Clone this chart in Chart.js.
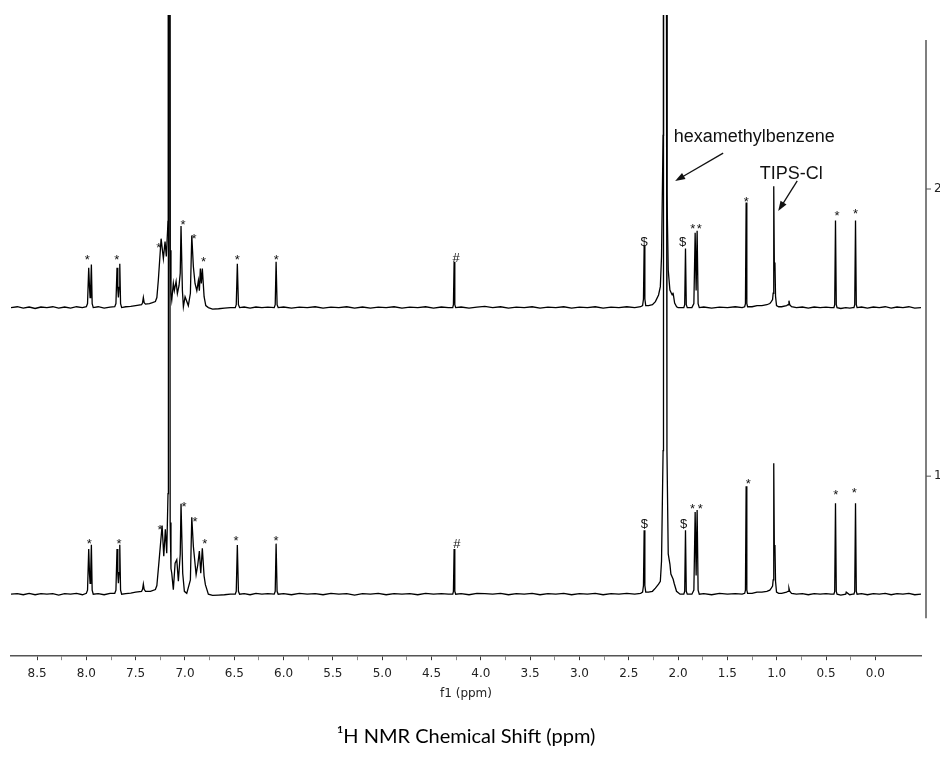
<!DOCTYPE html>
<html>
<head>
<meta charset="utf-8">
<title>1H NMR stacked spectra</title>
<script src="https://cdn.jsdelivr.net/npm/chart.js@4.4.1/dist/chart.umd.min.js"></script>
<style>
  body { margin: 0; background: #fff; }
  canvas { display: block; }
</style>
</head>
<body>
<canvas id="nmrChart" width="940" height="768"></canvas>
<script>
// Spectrum 2 (upper trace): chemical shift (ppm) and intensity above its baseline
const shift2 = [
  8.764, 8.70, 8.64, 8.58, 8.52, 8.46, 8.40, 8.34, 8.28, 8.22, 8.16, 8.10, 8.04,
  8.000, 7.988, 7.976, 7.968, 7.962, 7.956, 7.949, 7.941, 7.930, 7.88, 7.82, 7.76,
  7.712, 7.700, 7.689, 7.681, 7.675, 7.668, 7.661, 7.653, 7.642, 7.60, 7.55, 7.50,
  7.44, 7.430, 7.422, 7.414, 7.40, 7.36, 7.33, 7.300, 7.285, 7.270, 7.242, 7.219,
  7.202, 7.189, 7.172, 7.168, 7.154, 7.150, 7.142, 7.134, 7.118, 7.108, 7.090, 7.077,
  7.060, 7.048, 7.040, 7.026, 7.016, 6.999, 6.966, 6.945, 6.931, 6.915, 6.898, 6.880,
  6.864, 6.854, 6.844, 6.834, 6.824, 6.806, 6.789, 6.763, 6.72, 6.66, 6.60, 6.54,
  6.490, 6.480, 6.469, 6.458, 6.446, 6.40, 6.34, 6.28, 6.22, 6.16, 6.095, 6.085,
  6.076, 6.066, 6.055, 6.00, 5.92, 5.84, 5.76, 5.68, 5.60, 5.52, 5.44, 5.36, 5.28,
  5.20, 5.12, 5.04, 4.96, 4.88, 4.80, 4.72, 4.64, 4.56, 4.48, 4.40, 4.33, 4.285,
  4.278, 4.271, 4.264, 4.255, 4.20, 4.12, 4.04, 3.96, 3.88, 3.80, 3.72, 3.64, 3.56,
  3.48, 3.40, 3.32, 3.24, 3.16, 3.08, 3.00, 2.92, 2.84, 2.76, 2.68, 2.60, 2.52,
  2.44, 2.38, 2.360, 2.351, 2.344, 2.337, 2.328, 2.30, 2.26, 2.23, 2.198, 2.180,
  2.168, 2.152, 2.148, 2.118, 2.113, 2.100, 2.083, 2.068, 2.060, 2.052, 2.045, 2.035,
  2.015, 2.000, 1.960, 1.942, 1.933, 1.925, 1.917, 1.907, 1.860, 1.840, 1.827,
  1.817, 1.807, 1.797, 1.785, 1.74, 1.66, 1.58, 1.50, 1.42, 1.35, 1.325, 1.317,
  1.310, 1.303, 1.295, 1.25, 1.20, 1.15, 1.10, 1.07, 1.055, 1.042, 1.036, 1.030,
  1.024, 1.018, 1.012, 1.002, 0.98, 0.95, 0.90, 0.885, 0.876, 0.868, 0.85, 0.80,
  0.74, 0.68, 0.62, 0.56, 0.50, 0.45, 0.420, 0.412, 0.404, 0.396, 0.388, 0.35,
  0.30, 0.26, 0.228, 0.217, 0.209, 0.201, 0.193, 0.185, 0.14, 0.08, 0.02, -0.04,
  -0.10, -0.16, -0.22, -0.28, -0.34, -0.40, -0.463
];
const intensity2 = [
  0.000, 0.003, -0.002, 0.002, -0.003, 0.002, 0.000, 0.003, -0.002, 0.002, -0.002, 0.003, 0.000,
  0.003, 0.014, 0.139, 0.070, 0.035, 0.070, 0.150, 0.014, 0.000, 0.003, -0.002, 0.002,
  0.003, 0.014, 0.139, 0.063, 0.035, 0.070, 0.153, 0.014, 0.000, 0.003, 0.004, 0.007,
  0.010, 0.017, 0.035, 0.017, 0.012, 0.014, 0.017, 0.021, 0.035, 0.096, 0.240, 0.171,
  0.230, 0.178, 0.300, 2.100, 2.100, 0.200, 0.050, 0.026, 0.085, 0.059, 0.091, 0.049,
  0.077, 0.120, 0.284, 0.059, 0.003, 0.038, 0.007, 0.050, 0.251, 0.143, 0.084, 0.059,
  0.094, 0.059, 0.136, 0.084, 0.136, 0.038, 0.007, 0.000, -0.005, -0.004, -0.002, 0.000,
  0.000, 0.010, 0.153, 0.010, 0.000, 0.002, -0.002, 0.002, 0.000, 0.002, 0.000, 0.010,
  0.160, 0.010, 0.000, 0.002, -0.002, 0.002, 0.000, 0.003, -0.002, 0.002, 0.000, 0.003, -0.002,
  0.002, -0.002, 0.002, 0.000, 0.003, -0.002, 0.002, 0.000, 0.003, -0.002, 0.002, 0.000, 0.000,
  0.010, 0.160, 0.010, 0.000, 0.002, -0.002, 0.002, 0.004, 0.000, 0.003, -0.002, 0.002, 0.000,
  0.003, -0.002, 0.002, 0.000, 0.003, -0.002, 0.002, 0.000, 0.003, -0.002, 0.002, 0.000, 0.003,
  0.000, 0.003, 0.007, 0.030, 0.216, 0.030, 0.007, 0.007, 0.010, 0.021, 0.044, 0.073,
  0.178, 0.600, 2.100, 2.100, 0.400, 0.131, 0.061, 0.050, 0.044, 0.052, 0.038, 0.016,
  0.003, 0.000, 0.000, 0.000, 0.010, 0.206, 0.010, 0.000, 0.000, 0.014, 0.261,
  0.060, 0.268, 0.014, 0.000, 0.002, -0.002, 0.002, 0.000, 0.003, 0.000, 0.003, 0.014,
  0.366, 0.014, 0.003, 0.003, 0.007, 0.007, 0.010, 0.014, 0.021, 0.028, 0.050, 0.423,
  0.140, 0.157, 0.040, 0.007, 0.003, 0.003, 0.007, 0.010, 0.024, 0.010, 0.003, 0.000,
  0.002, -0.002, 0.002, 0.000, 0.002, 0.000, 0.000, 0.010, 0.303, 0.010, 0.000, -0.003,
  0.000, -0.002, 0.000, 0.000, 0.010, 0.303, 0.010, 0.000, 0.002, -0.002, 0.002, 0.000,
  0.003, -0.002, 0.002, 0.000, 0.003, -0.002, 0.000
];

// Spectrum 1 (lower trace)
const shift1 = [
  8.764, 8.70, 8.64, 8.58, 8.52, 8.46, 8.40, 8.34, 8.28, 8.22, 8.16, 8.10, 8.04,
  8.000, 7.988, 7.976, 7.968, 7.962, 7.956, 7.949, 7.941, 7.930, 7.88, 7.82, 7.76,
  7.712, 7.700, 7.689, 7.681, 7.675, 7.668, 7.661, 7.653, 7.642, 7.60, 7.55, 7.50,
  7.44, 7.430, 7.422, 7.414, 7.40, 7.35, 7.30, 7.285, 7.263, 7.232, 7.215, 7.199,
  7.185, 7.172, 7.168, 7.154, 7.150, 7.142, 7.134, 7.118, 7.100, 7.083, 7.067, 7.048,
  7.040, 7.023, 7.006, 6.982, 6.945, 6.931, 6.915, 6.887, 6.870, 6.854, 6.840, 6.824,
  6.806, 6.793, 6.763, 6.72, 6.66, 6.60, 6.54, 6.490, 6.480, 6.469, 6.458, 6.446,
  6.40, 6.34, 6.28, 6.22, 6.16, 6.095, 6.085, 6.076, 6.066, 6.055, 6.00, 5.92, 5.84,
  5.76, 5.68, 5.60, 5.52, 5.44, 5.36, 5.28, 5.20, 5.12, 5.04, 4.96, 4.88, 4.80, 4.72,
  4.64, 4.56, 4.48, 4.40, 4.33, 4.285, 4.278, 4.271, 4.264, 4.255, 4.20, 4.12, 4.04,
  3.96, 3.88, 3.80, 3.72, 3.64, 3.56, 3.48, 3.40, 3.32, 3.24, 3.16, 3.08, 3.00, 2.92,
  2.84, 2.76, 2.68, 2.60, 2.52, 2.44, 2.38, 2.360, 2.351, 2.344, 2.337, 2.328, 2.30,
  2.26, 2.23, 2.198, 2.180, 2.168, 2.152, 2.148, 2.118, 2.113, 2.100, 2.083, 2.073,
  2.050, 2.040, 2.016, 1.980, 1.960, 1.942, 1.933, 1.925, 1.917, 1.907, 1.860, 1.840,
  1.827, 1.817, 1.807, 1.797, 1.785, 1.74, 1.66, 1.58, 1.50, 1.42, 1.35, 1.325, 1.317,
  1.310, 1.303, 1.295, 1.25, 1.20, 1.15, 1.10, 1.07, 1.055, 1.042, 1.036, 1.030, 1.024,
  1.018, 1.012, 1.002, 0.98, 0.95, 0.90, 0.885, 0.876, 0.868, 0.85, 0.80, 0.74, 0.68,
  0.62, 0.56, 0.50, 0.45, 0.420, 0.412, 0.404, 0.396, 0.388, 0.35, 0.30, 0.295, 0.26,
  0.228, 0.217, 0.209, 0.201, 0.193, 0.185, 0.14, 0.08, 0.02, -0.04, -0.10, -0.16,
  -0.22, -0.28, -0.34, -0.40, -0.463
];
const intensity1 = [
  0.000, 0.002, -0.002, 0.003, -0.002, 0.002, 0.000, 0.002, -0.003, 0.002, 0.000, 0.003, -0.002,
  0.003, 0.014, 0.157, 0.070, 0.038, 0.075, 0.172, 0.014, 0.000, 0.002, -0.002, 0.003,
  0.003, 0.014, 0.157, 0.070, 0.038, 0.075, 0.172, 0.014, 0.000, 0.002, 0.004, 0.007,
  0.010, 0.017, 0.035, 0.017, 0.010, 0.010, 0.016, 0.030, 0.115, 0.239, 0.132, 0.226,
  0.143, 0.350, 2.100, 2.100, 0.250, 0.090, 0.073, 0.016, 0.108, 0.120, 0.045, 0.140,
  0.315, 0.073, 0.010, 0.003, 0.050, 0.268, 0.167, 0.068, 0.103, 0.150, 0.073, 0.160,
  0.063, 0.033, 0.000, -0.004, -0.003, -0.002, 0.000, 0.000, 0.010, 0.171, 0.010, 0.000,
  0.002, -0.002, 0.003, 0.000, 0.002, 0.000, 0.010, 0.176, 0.010, 0.000, 0.002, -0.002, 0.003,
  0.000, 0.002, -0.002, 0.003, 0.000, 0.002, -0.003, 0.002, 0.000, 0.003, -0.002, 0.002, 0.000, 0.002,
  -0.002, 0.003, 0.000, 0.002, 0.000, 0.000, 0.010, 0.157, 0.010, 0.000, 0.002, -0.002, 0.003,
  0.002, 0.000, 0.003, -0.002, 0.002, 0.000, 0.003, -0.002, 0.002, 0.000, 0.003, -0.002, 0.002, 0.000,
  0.003, -0.002, 0.002, 0.000, 0.003, 0.000, 0.003, 0.007, 0.030, 0.223, 0.030, 0.007, 0.007,
  0.010, 0.021, 0.035, 0.045, 0.115, 0.500, 2.100, 2.100, 0.500, 0.140, 0.105, 0.070,
  0.052, 0.038, 0.010, 0.000, 0.000, 0.000, 0.010, 0.223, 0.010, 0.000, 0.000, 0.014,
  0.286, 0.065, 0.293, 0.014, 0.000, 0.002, -0.002, 0.003, 0.000, 0.002, 0.000, 0.003, 0.014,
  0.376, 0.014, 0.003, 0.003, 0.007, 0.007, 0.010, 0.014, 0.021, 0.028, 0.050, 0.456, 0.150,
  0.171, 0.045, 0.007, 0.003, 0.003, 0.007, 0.010, 0.021, 0.010, 0.003, 0.000, 0.002, -0.002,
  0.002, 0.000, 0.002, 0.000, 0.000, 0.010, 0.317, 0.010, 0.000, -0.003, 0.000, 0.007, -0.002,
  0.000, 0.000, 0.010, 0.317, 0.010, 0.000, 0.002, -0.002, 0.002, 0.000, 0.003, -0.002,
  0.002, 0.000, 0.003, -0.002, 0.000
];

// vertical stacking: baseline of each spectrum on the right-hand axis
const traceNames = ['1', '2'];
const traceOffsets = [0.589, 1.587];

// axis ranges
const shiftMin = -0.463;
const shiftMax = 8.764;
const yMin = 0.373;
const yMax = 2.606;
const rightAxisTicks = [1, 2];
const rightAxisSpan = [0.505, 2.519];

// peak markers: [shift, height on right axis, symbol]
const markers = [
  [7.990, 1.760, '*'], [7.692, 1.760, '*'], [7.266, 1.805, '*'], [7.019, 1.885, '*'],
  [6.908, 1.833, '*'], [6.813, 1.756, '*'], [6.469, 1.763, '*'], [6.073, 1.763, '*'],
  [4.250, 1.760, '#'], [2.344, 1.815, '$'], [1.955, 1.815, '$'], [1.850, 1.868, '*'],
  [1.786, 1.868, '*'], [1.309, 1.965, '*'], [0.389, 1.916, '*'], [0.201, 1.920, '*'],
  [7.970, 0.774, '*'], [7.668, 0.774, '*'], [7.253, 0.822, '*'], [7.009, 0.902, '*'],
  [6.898, 0.850, '*'], [6.799, 0.774, '*'], [6.482, 0.784, '*'], [6.076, 0.784, '*'],
  [4.243, 0.767, '#'], [2.341, 0.833, '$'], [1.945, 0.833, '$'], [1.854, 0.895, '*'],
  [1.776, 0.895, '*'], [1.289, 0.983, '*'], [0.400, 0.944, '*'], [0.214, 0.951, '*']
];

// text callouts: label position, arrow start, arrow tip
const callouts = [
  { text: 'hexamethylbenzene', at: [1.228, 2.181], from: [1.543, 2.125], to: [2.030, 2.028] },
  { text: 'TIPS-Cl', at: [0.853, 2.059], from: [0.792, 2.028], to: [0.985, 1.923] }
];

function buildTrace(shifts, values, offset) {
  return shifts.map((s, i) => ({ x: s, y: offset + values[i] }));
}

function isHalf(v) {
  return Math.abs(v * 2 - Math.round(v * 2)) < 1e-6;
}

// draws the stack axis on the right, peak markers and the arrows
const annotations = {
  id: 'annotations',
  afterDatasetsDraw(chart) {
    const { ctx, chartArea } = chart;
    const xs = chart.scales.x;
    const ys = chart.scales.y;
    ctx.save();

    // right-hand stack axis
    const ax = chartArea.right + 5;
    ctx.strokeStyle = '#555';
    ctx.lineWidth = 1.5;
    ctx.beginPath();
    ctx.moveTo(ax, ys.getPixelForValue(rightAxisSpan[1]));
    ctx.lineTo(ax, ys.getPixelForValue(rightAxisSpan[0]));
    ctx.stroke();
    ctx.font = '12px "DejaVu Sans", sans-serif';
    ctx.fillStyle = '#222';
    ctx.textAlign = 'left';
    ctx.textBaseline = 'middle';
    rightAxisTicks.forEach((t, i) => {
      const py = ys.getPixelForValue(t);
      ctx.lineWidth = 1;
      ctx.beginPath();
      ctx.moveTo(ax, py);
      ctx.lineTo(ax + 5, py);
      ctx.stroke();
      ctx.fillText(traceNames[i], ax + 8, py);
    });

    // peak markers
    ctx.fillStyle = '#111';
    ctx.textAlign = 'center';
    ctx.textBaseline = 'alphabetic';
    ctx.font = '13px "Liberation Sans", Arial, sans-serif';
    markers.forEach(([s, v, sym]) => {
      const m = ctx.measureText(sym);
      const px = xs.getPixelForValue(s);
      const py = ys.getPixelForValue(v);
      ctx.fillText(sym, px, py + (m.actualBoundingBoxAscent - m.actualBoundingBoxDescent) / 2);
    });

    // callouts with arrows
    ctx.font = '18px "Liberation Sans", Arial, sans-serif';
    ctx.strokeStyle = '#111';
    ctx.lineWidth = 1.3;
    callouts.forEach(c => {
      const m = ctx.measureText(c.text);
      const tx = xs.getPixelForValue(c.at[0]);
      const ty = ys.getPixelForValue(c.at[1]);
      ctx.fillText(c.text, tx, ty + (m.actualBoundingBoxAscent - m.actualBoundingBoxDescent) / 2);

      const x1 = xs.getPixelForValue(c.from[0]), y1 = ys.getPixelForValue(c.from[1]);
      const x2 = xs.getPixelForValue(c.to[0]), y2 = ys.getPixelForValue(c.to[1]);
      const ang = Math.atan2(y2 - y1, x2 - x1);
      const head = 10;
      ctx.beginPath();
      ctx.moveTo(x1, y1);
      ctx.lineTo(x2 - Math.cos(ang) * head * 0.8, y2 - Math.sin(ang) * head * 0.8);
      ctx.stroke();
      ctx.beginPath();
      ctx.moveTo(x2, y2);
      ctx.lineTo(x2 - head * Math.cos(ang) + 3.5 * Math.sin(ang), y2 - head * Math.sin(ang) - 3.5 * Math.cos(ang));
      ctx.lineTo(x2 - head * Math.cos(ang) - 3.5 * Math.sin(ang), y2 - head * Math.sin(ang) + 3.5 * Math.cos(ang));
      ctx.closePath();
      ctx.fill();
    });

    ctx.restore();
  }
};

const ctx = document.getElementById('nmrChart').getContext('2d');
const chart = new Chart(ctx, {
  type: 'line',
  data: {
    datasets: [
      {
        label: 'Spectrum 1',
        data: buildTrace(shift1, intensity1, traceOffsets[0]),
        borderColor: '#000',
        borderWidth: 1.3,
        pointRadius: 0,
        tension: 0,
      },
      {
        label: 'Spectrum 2',
        data: buildTrace(shift2, intensity2, traceOffsets[1]),
        borderColor: '#000',
        borderWidth: 1.3,
        pointRadius: 0,
        tension: 0,
      },
    ],
  },
  options: {
    responsive: false,
    animation: false,
    devicePixelRatio: 1,
    layout: { padding: { left: 11, right: 19, top: 15, bottom: 0 } },
    plugins: {
      legend: { display: false },
      tooltip: { enabled: false },
      title: {
        display: true,
        text: '\u00B9H NMR Chemical Shift (ppm)',
        position: 'bottom',
        color: '#000',
        font: { family: 'Lato, "Open Sans", sans-serif', size: 20, weight: 'normal' },
        padding: { top: 24, bottom: 19 },
      },
    },
    scales: {
      x: {
        type: 'linear',
        reverse: true,
        min: shiftMin,
        max: shiftMax,
        afterBuildTicks: (scale) => {
          scale.ticks = scale.ticks.filter(t => Math.abs(t.value * 4 - Math.round(t.value * 4)) < 1e-6);
        },
        ticks: {
          stepSize: 0.25,
          autoSkip: false,
          maxRotation: 0,
          padding: 6,
          color: '#222',
          font: { family: '"DejaVu Sans", sans-serif', size: 12 },
          callback: (v) => (isHalf(v) ? Number(v).toFixed(1) : ''),
        },
        grid: {
          drawOnChartArea: false,
          drawTicks: true,
          tickLength: 4,
          tickColor: (c) => (c.tick && isHalf(c.tick.value) ? '#333' : '#888'),
        },
        border: { display: true, color: '#555', width: 1.5 },
        title: {
          display: true,
          text: 'f1 (ppm)',
          color: '#222',
          font: { family: '"DejaVu Sans", sans-serif', size: 12 },
          padding: { top: 0, bottom: 0 },
        },
      },
      y: {
        type: 'linear',
        display: false,
        min: yMin,
        max: yMax,
      },
    },
  },
  plugins: [annotations],
});
</script>
</body>
</html>
